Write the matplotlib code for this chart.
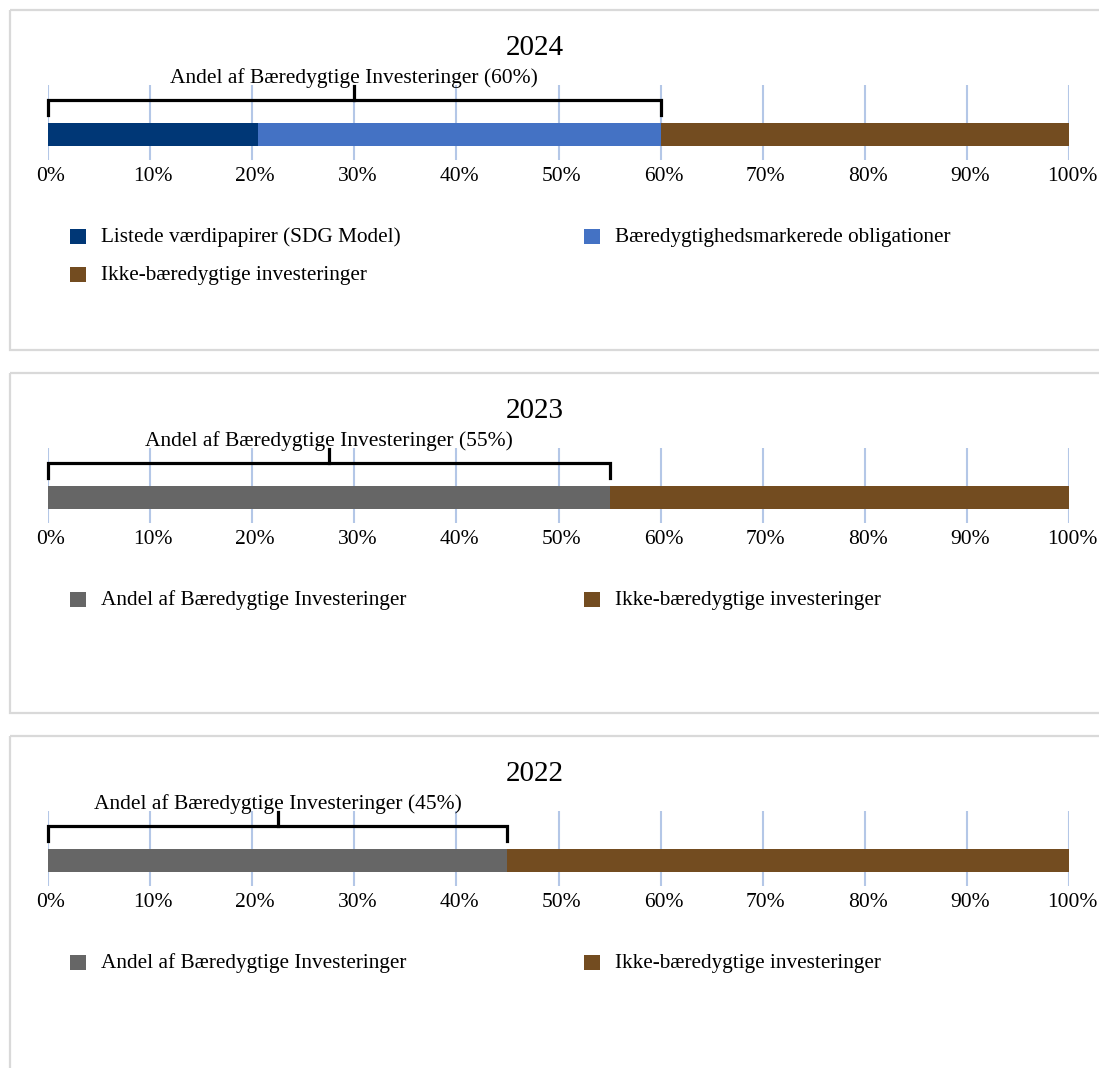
import matplotlib
matplotlib.use("Agg")
import matplotlib.pyplot as plt
from matplotlib.patches import Rectangle
from matplotlib.transforms import ScaledTranslation

plt.rcParams['font.family'] = ['Liberation Serif', 'DejaVu Serif']

# ---------------- data ----------------
years = ['2024', '2023', '2022']
series_2024 = ['Listede værdipapirer (SDG Model)',
               'Bæredygtighedsmarkerede obligationer',
               'Ikke-bæredygtige investeringer']
values_2024 = [20.6, 39.4, 40.0]
series_2023 = ['Andel af Bæredygtige Investeringer', 'Ikke-bæredygtige investeringer']
values_2023 = [55.0, 45.0]
series_2022 = ['Andel af Bæredygtige Investeringer', 'Ikke-bæredygtige investeringer']
values_2022 = [45.0, 55.0]
sustainable_share = [60, 55, 45]
tick_values = list(range(0, 101, 10))
tick_labels = [f'{v}%' for v in tick_values]
bracket_label = 'Andel af Bæredygtige Investeringer ({}%)'

colors_2024 = ['#003776', '#4472C4', '#734C20']
colors_other = ['#666666', '#734C20']

panels = [
    (years[0], series_2024, values_2024, colors_2024, sustainable_share[0]),
    (years[1], series_2023, values_2023, colors_other, sustainable_share[1]),
    (years[2], series_2022, values_2022, colors_other, sustainable_share[2]),
]

W, H = 1099, 1068
fig = plt.figure(figsize=(W / 100, H / 100), dpi=100)
fig.patch.set_facecolor('white')

bg = fig.add_axes([0, 0, 1, 1], zorder=-1)
bg.set_xlim(0, W)
bg.set_ylim(H, 0)
bg.axis('off')

FS = 15.5
FS_LEG = 15.3
grid_color = '#B4C7E7'
step = 363
shift = ScaledTranslation(3 / 100, 0, fig.dpi_scale_trans)

for k, (year, names, vals, cols, total) in enumerate(panels):
    dy = step * k
    # panel border
    bg.add_patch(Rectangle((10, 10 + dy), 1200, 340, fill=False,
                           edgecolor='#D9D9D9', lw=1.6))
    # title
    bg.text(535, 55 + dy, year, ha='center', va='baseline', fontsize=21)

    # bar axes
    top, bottom = 85 + dy, 160 + dy
    ax = fig.add_axes([48 / W, 1 - bottom / H, 1021 / W, (bottom - top) / H])
    ax.set_xlim(0, 100)
    ax.set_ylim(0, 75)
    left = 0
    for v, c in zip(vals, cols):
        ax.barh(25.5, v, left=left, height=23, color=c, zorder=2)
        left += v
    ax.set_xticks(tick_values)
    ax.set_xticklabels(tick_labels, fontsize=FS)
    ax.set_yticks([])
    ax.tick_params(axis='x', length=0, pad=4.8)
    for tk in ax.xaxis.get_major_ticks():
        tk.label1.set_transform(tk.label1.get_transform() + shift)
    ax.grid(axis='x', color=grid_color, lw=1.5, zorder=0)
    ax.set_axisbelow(True)
    for s in ax.spines.values():
        s.set_visible(False)
    ax.patch.set_alpha(0)

    # bracket
    ax.plot([0, 0, total, total], [45, 60, 60, 45], color='black', lw=2.3,
            solid_joinstyle='miter', clip_on=False, zorder=3)
    ax.plot([total / 2, total / 2], [60, 74], color='black', lw=2.3,
            clip_on=False, zorder=3)
    ax.text(total / 2, 77, bracket_label.format(total), ha='center',
            va='baseline', fontsize=FS)

    # legend (manual, two columns)
    col_x = [70, 584]
    row_y = [229, 267]
    for i, (n, c) in enumerate(zip(names, cols)):
        cx = col_x[i % 2]
        ry = row_y[i // 2] + dy
        bg.add_patch(Rectangle((cx, ry), 16, 15, facecolor=c, edgecolor='none'))
        bg.text(cx + 31, ry + 13, n, ha='left', va='baseline', fontsize=FS_LEG)

fig.savefig('out.png', dpi=100)
